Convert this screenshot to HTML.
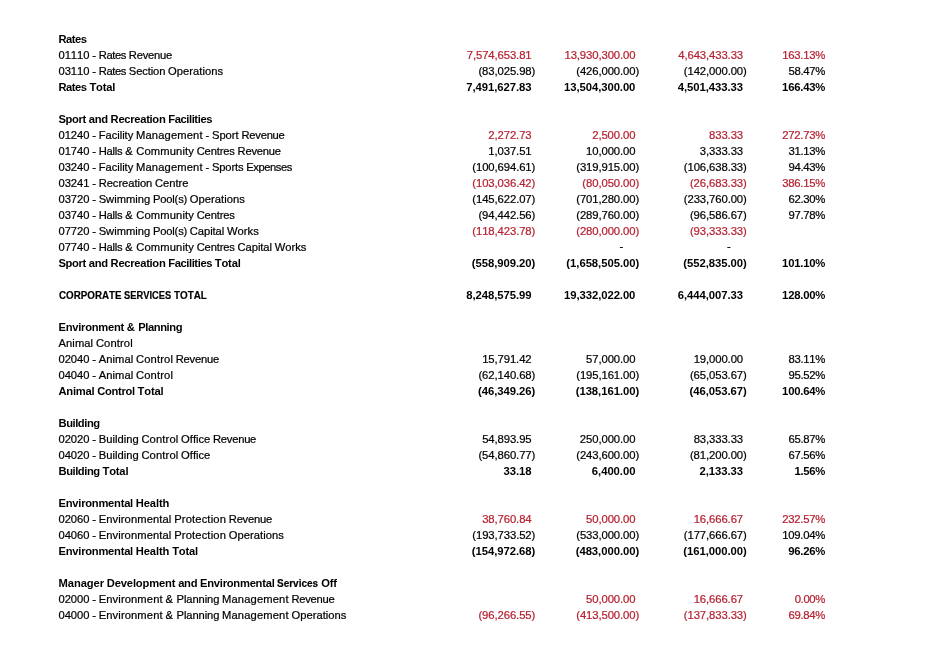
<!DOCTYPE html>
<html lang="en">
<head>
<meta charset="utf-8">
<title>Budget report</title>
<style>
html,body{margin:0;padding:0;background:#fff}
body{width:929px;height:656px;overflow:hidden;position:relative;font-family:"Liberation Sans",sans-serif;color:#000;font-kerning:none;line-height:16px}
.r{position:absolute;left:0;width:929px;height:16px;white-space:nowrap}
.l{position:absolute;top:0;left:58.5px;font-size:11.2px;word-spacing:-0.34px}
.n{position:absolute;top:0;font-size:11.3px;text-align:right}
.b{font-weight:bold;-webkit-text-stroke:0}
.red .n{color:#b52232}
.c1{right:393.7px}
.c1.p{right:397.4px}
.c2{right:289.8px}
.c2.p{right:293.5px}
.c3{right:182.2px}
.c3.p{right:185.9px}
.c4{right:103.7px}
.b .p.c1{right:397.5px}.b .p.c2{right:293.6px}.b .p.c3{right:186px}
i{font-style:normal}
.sx{display:inline-block;transform-origin:0 0;white-space:nowrap;-webkit-text-stroke:0.2px}
#page{-webkit-text-stroke:0.22px;position:absolute;left:0;top:0;width:929px;height:656px;will-change:transform}
</style>
</head>
<body>
<div id="page">
<div class="r b" style="top:30.85px"><span class="l"><i style="letter-spacing:-0.47px">Rates</i></span></div>
<div class="r red" style="top:46.85px"><span class="l"><i style="letter-spacing:-0.05px">01110</i> <i style="letter-spacing:0px">-</i> <i style="letter-spacing:-0.37px">Rates</i> <i style="letter-spacing:-0.24px">Revenue</i></span><span class="n c1 p" style="letter-spacing:-0.1px;margin-right:0.1px">7,574,653.81</span><span class="n c2 p" style="letter-spacing:-0.1px;margin-right:0.1px">13,930,300.00</span><span class="n c3 p" style="letter-spacing:-0.1px;margin-right:0.1px">4,643,433.33</span><span class="n c4" style="letter-spacing:-0.27px;margin-right:0.27px">163.13%</span></div>
<div class="r" style="top:62.85px"><span class="l"><i style="letter-spacing:-0.05px">03110</i> <i style="letter-spacing:0px">-</i> <i style="letter-spacing:-0.37px">Rates</i> <i style="letter-spacing:-0.12px">Section</i> <i style="letter-spacing:0.03px">Operations</i></span><span class="n c1" style="letter-spacing:-0.09px;margin-right:0.09px">(83,025.98)</span><span class="n c2" style="letter-spacing:-0.1px;margin-right:0.1px">(426,000.00)</span><span class="n c3" style="letter-spacing:-0.1px;margin-right:0.1px">(142,000.00)</span><span class="n c4" style="letter-spacing:-0.3px;margin-right:0.3px">58.47%</span></div>
<div class="r b" style="top:78.85px"><span class="l"><i style="letter-spacing:-0.47px">Rates</i> <i style="letter-spacing:-0.18px">Total</i></span><span class="n c1 p" style="letter-spacing:-0.07px;margin-right:0.07px">7,491,627.83</span><span class="n c2 p" style="letter-spacing:-0.07px;margin-right:0.07px">13,504,300.00</span><span class="n c3 p" style="letter-spacing:-0.07px;margin-right:0.07px">4,501,433.33</span><span class="n c4" style="letter-spacing:-0.23px;margin-right:0.23px">166.43%</span></div>
<div class="r b" style="top:110.85px"><span class="l"><i style="letter-spacing:-0.36px">Sport</i> <i style="letter-spacing:-0.26px">and</i> <i style="letter-spacing:-0.3px">Recreation</i> <i style="letter-spacing:-0.41px">Facilities</i></span></div>
<div class="r red" style="top:126.85px"><span class="l"><i style="letter-spacing:-0.05px">01240</i> <i style="letter-spacing:0px">-</i> <i style="letter-spacing:-0.03px">Facility</i> <i style="letter-spacing:0.13px">Management</i> <i style="letter-spacing:0px">-</i> <i style="letter-spacing:0px">Sport</i> <i style="letter-spacing:-0.24px">Revenue</i></span><span class="n c1 p" style="letter-spacing:-0.1px;margin-right:0.1px">2,272.73</span><span class="n c2 p" style="letter-spacing:-0.1px;margin-right:0.1px">2,500.00</span><span class="n c3 p" style="letter-spacing:-0.1px;margin-right:0.1px">833.33</span><span class="n c4" style="letter-spacing:-0.27px;margin-right:0.27px">272.73%</span></div>
<div class="r" style="top:142.85px"><span class="l"><i style="letter-spacing:-0.05px">01740</i> <i style="letter-spacing:0px">-</i> <i style="letter-spacing:-0.22px">Halls</i> <i style="letter-spacing:0.86px">&amp;</i> <i style="letter-spacing:0.11px">Community</i> <i style="letter-spacing:-0.15px">Centres</i> <i style="letter-spacing:-0.24px">Revenue</i></span><span class="n c1 p" style="letter-spacing:-0.1px;margin-right:0.1px">1,037.51</span><span class="n c2 p" style="letter-spacing:-0.1px;margin-right:0.1px">10,000.00</span><span class="n c3 p" style="letter-spacing:-0.1px;margin-right:0.1px">3,333.33</span><span class="n c4" style="letter-spacing:-0.3px;margin-right:0.3px">31.13%</span></div>
<div class="r" style="top:158.85px"><span class="l"><i style="letter-spacing:-0.05px">03240</i> <i style="letter-spacing:0px">-</i> <i style="letter-spacing:-0.03px">Facility</i> <i style="letter-spacing:0.13px">Management</i> <i style="letter-spacing:0px">-</i> <i style="letter-spacing:-0.14px">Sports</i> <i style="letter-spacing:-0.43px">Expenses</i></span><span class="n c1" style="letter-spacing:-0.1px;margin-right:0.1px">(100,694.61)</span><span class="n c2" style="letter-spacing:-0.1px;margin-right:0.1px">(319,915.00)</span><span class="n c3" style="letter-spacing:-0.1px;margin-right:0.1px">(106,638.33)</span><span class="n c4" style="letter-spacing:-0.3px;margin-right:0.3px">94.43%</span></div>
<div class="r red" style="top:174.85px"><span class="l"><i style="letter-spacing:-0.05px">03241</i> <i style="letter-spacing:0px">-</i> <i style="letter-spacing:-0.05px">Recreation</i> <i style="letter-spacing:-0.04px">Centre</i></span><span class="n c1" style="letter-spacing:-0.1px;margin-right:0.1px">(103,036.42)</span><span class="n c2" style="letter-spacing:-0.09px;margin-right:0.09px">(80,050.00)</span><span class="n c3" style="letter-spacing:-0.09px;margin-right:0.09px">(26,683.33)</span><span class="n c4" style="letter-spacing:-0.27px;margin-right:0.27px">386.15%</span></div>
<div class="r" style="top:190.85px"><span class="l"><i style="letter-spacing:-0.05px">03720</i> <i style="letter-spacing:0px">-</i> <i style="letter-spacing:-0.01px">Swimming</i> <i style="letter-spacing:-0.19px">Pool(s)</i> <i style="letter-spacing:0.03px">Operations</i></span><span class="n c1" style="letter-spacing:-0.1px;margin-right:0.1px">(145,622.07)</span><span class="n c2" style="letter-spacing:-0.1px;margin-right:0.1px">(701,280.00)</span><span class="n c3" style="letter-spacing:-0.1px;margin-right:0.1px">(233,760.00)</span><span class="n c4" style="letter-spacing:-0.3px;margin-right:0.3px">62.30%</span></div>
<div class="r" style="top:206.85px"><span class="l"><i style="letter-spacing:-0.05px">03740</i> <i style="letter-spacing:0px">-</i> <i style="letter-spacing:-0.22px">Halls</i> <i style="letter-spacing:0.86px">&amp;</i> <i style="letter-spacing:0.11px">Community</i> <i style="letter-spacing:-0.15px">Centres</i></span><span class="n c1" style="letter-spacing:-0.09px;margin-right:0.09px">(94,442.56)</span><span class="n c2" style="letter-spacing:-0.1px;margin-right:0.1px">(289,760.00)</span><span class="n c3" style="letter-spacing:-0.09px;margin-right:0.09px">(96,586.67)</span><span class="n c4" style="letter-spacing:-0.3px;margin-right:0.3px">97.78%</span></div>
<div class="r red" style="top:222.85px"><span class="l"><i style="letter-spacing:-0.05px">07720</i> <i style="letter-spacing:0px">-</i> <i style="letter-spacing:-0.01px">Swimming</i> <i style="letter-spacing:-0.19px">Pool(s)</i> <i style="letter-spacing:-0.08px">Capital</i> <i style="letter-spacing:0.03px">Works</i></span><span class="n c1" style="letter-spacing:-0.1px;margin-right:0.1px">(118,423.78)</span><span class="n c2" style="letter-spacing:-0.1px;margin-right:0.1px">(280,000.00)</span><span class="n c3" style="letter-spacing:-0.09px;margin-right:0.09px">(93,333.33)</span></div>
<div class="r" style="top:238.85px"><span class="l"><i style="letter-spacing:-0.05px">07740</i> <i style="letter-spacing:0px">-</i> <i style="letter-spacing:-0.22px">Halls</i> <i style="letter-spacing:0.86px">&amp;</i> <i style="letter-spacing:0.11px">Community</i> <i style="letter-spacing:-0.15px">Centres</i> <i style="letter-spacing:-0.08px">Capital</i> <i style="letter-spacing:0.03px">Works</i></span><span class="n" style="right:305.87px;top:-1px">-</span><span class="n" style="right:198.27px;top:-1px">-</span></div>
<div class="r b" style="top:254.85px"><span class="l"><i style="letter-spacing:-0.36px">Sport</i> <i style="letter-spacing:-0.26px">and</i> <i style="letter-spacing:-0.3px">Recreation</i> <i style="letter-spacing:-0.41px">Facilities</i> <i style="letter-spacing:-0.18px">Total</i></span><span class="n c1" style="letter-spacing:-0.05px;margin-right:0.05px">(558,909.20)</span><span class="n c2" style="letter-spacing:-0.05px;margin-right:0.05px">(1,658,505.00)</span><span class="n c3" style="letter-spacing:-0.05px;margin-right:0.05px">(552,835.00)</span><span class="n c4" style="letter-spacing:-0.23px;margin-right:0.23px">101.10%</span></div>
<div class="r b" style="top:286.85px"><span class="l"><i class="sx" style="width:62.52px;transform:scaleX(0.8745)">CORPORATE</i> <i class="sx" style="width:47.19px;transform:scaleX(0.8340)">SERVICES</i> <i class="sx" style="width:32.86px;transform:scaleX(0.8810)">TOTAL</i></span><span class="n c1 p" style="letter-spacing:-0.07px;margin-right:0.07px">8,248,575.99</span><span class="n c2 p" style="letter-spacing:-0.07px;margin-right:0.07px">19,332,022.00</span><span class="n c3 p" style="letter-spacing:-0.07px;margin-right:0.07px">6,444,007.33</span><span class="n c4" style="letter-spacing:-0.23px;margin-right:0.23px">128.00%</span></div>
<div class="r b" style="top:318.85px"><span class="l"><i style="letter-spacing:-0.26px">Environment</i> <i style="letter-spacing:0.5px">&amp;</i> <i style="letter-spacing:-0.42px">Planning</i></span></div>
<div class="r" style="top:334.85px"><span class="l"><i style="letter-spacing:0.07px">Animal</i> <i style="letter-spacing:0.12px">Control</i></span></div>
<div class="r" style="top:350.85px"><span class="l"><i style="letter-spacing:-0.05px">02040</i> <i style="letter-spacing:0px">-</i> <i style="letter-spacing:0.07px">Animal</i> <i style="letter-spacing:0.12px">Control</i> <i style="letter-spacing:-0.24px">Revenue</i></span><span class="n c1 p" style="letter-spacing:-0.1px;margin-right:0.1px">15,791.42</span><span class="n c2 p" style="letter-spacing:-0.1px;margin-right:0.1px">57,000.00</span><span class="n c3 p" style="letter-spacing:-0.1px;margin-right:0.1px">19,000.00</span><span class="n c4" style="letter-spacing:-0.3px;margin-right:0.3px">83.11%</span></div>
<div class="r" style="top:366.85px"><span class="l"><i style="letter-spacing:-0.05px">04040</i> <i style="letter-spacing:0px">-</i> <i style="letter-spacing:0.07px">Animal</i> <i style="letter-spacing:0.12px">Control</i></span><span class="n c1" style="letter-spacing:-0.09px;margin-right:0.09px">(62,140.68)</span><span class="n c2" style="letter-spacing:-0.1px;margin-right:0.1px">(195,161.00)</span><span class="n c3" style="letter-spacing:-0.09px;margin-right:0.09px">(65,053.67)</span><span class="n c4" style="letter-spacing:-0.3px;margin-right:0.3px">95.52%</span></div>
<div class="r b" style="top:382.85px"><span class="l"><i style="letter-spacing:-0.24px">Animal</i> <i style="letter-spacing:-0.3px">Control</i> <i style="letter-spacing:-0.18px">Total</i></span><span class="n c1" style="letter-spacing:-0.05px;margin-right:0.05px">(46,349.26)</span><span class="n c2" style="letter-spacing:-0.05px;margin-right:0.05px">(138,161.00)</span><span class="n c3" style="letter-spacing:-0.05px;margin-right:0.05px">(46,053.67)</span><span class="n c4" style="letter-spacing:-0.23px;margin-right:0.23px">100.64%</span></div>
<div class="r b" style="top:414.85px"><span class="l"><i style="letter-spacing:-0.44px">Building</i></span></div>
<div class="r" style="top:430.85px"><span class="l"><i style="letter-spacing:-0.05px">02020</i> <i style="letter-spacing:0px">-</i> <i style="letter-spacing:0.02px">Building</i> <i style="letter-spacing:0.12px">Control</i> <i style="letter-spacing:-0.02px">Office</i> <i style="letter-spacing:-0.24px">Revenue</i></span><span class="n c1 p" style="letter-spacing:-0.1px;margin-right:0.1px">54,893.95</span><span class="n c2 p" style="letter-spacing:-0.1px;margin-right:0.1px">250,000.00</span><span class="n c3 p" style="letter-spacing:-0.1px;margin-right:0.1px">83,333.33</span><span class="n c4" style="letter-spacing:-0.3px;margin-right:0.3px">65.87%</span></div>
<div class="r" style="top:446.85px"><span class="l"><i style="letter-spacing:-0.05px">04020</i> <i style="letter-spacing:0px">-</i> <i style="letter-spacing:0.02px">Building</i> <i style="letter-spacing:0.12px">Control</i> <i style="letter-spacing:-0.02px">Office</i></span><span class="n c1" style="letter-spacing:-0.09px;margin-right:0.09px">(54,860.77)</span><span class="n c2" style="letter-spacing:-0.1px;margin-right:0.1px">(243,600.00)</span><span class="n c3" style="letter-spacing:-0.09px;margin-right:0.09px">(81,200.00)</span><span class="n c4" style="letter-spacing:-0.3px;margin-right:0.3px">67.56%</span></div>
<div class="r b" style="top:462.85px"><span class="l"><i style="letter-spacing:-0.44px">Building</i> <i style="letter-spacing:-0.18px">Total</i></span><span class="n c1 p" style="letter-spacing:-0.06px;margin-right:0.06px">33.18</span><span class="n c2 p" style="letter-spacing:-0.06px;margin-right:0.06px">6,400.00</span><span class="n c3 p" style="letter-spacing:-0.06px;margin-right:0.06px">2,133.33</span><span class="n c4" style="letter-spacing:-0.28px;margin-right:0.28px">1.56%</span></div>
<div class="r b" style="top:494.85px"><span class="l"><i style="letter-spacing:-0.25px">Environmental</i> <i style="letter-spacing:-0.1px">Health</i></span></div>
<div class="r red" style="top:510.85px"><span class="l"><i style="letter-spacing:-0.05px">02060</i> <i style="letter-spacing:0px">-</i> <i style="letter-spacing:0.09px">Environmental</i> <i style="letter-spacing:0.15px">Protection</i> <i style="letter-spacing:-0.24px">Revenue</i></span><span class="n c1 p" style="letter-spacing:-0.1px;margin-right:0.1px">38,760.84</span><span class="n c2 p" style="letter-spacing:-0.1px;margin-right:0.1px">50,000.00</span><span class="n c3 p" style="letter-spacing:-0.1px;margin-right:0.1px">16,666.67</span><span class="n c4" style="letter-spacing:-0.27px;margin-right:0.27px">232.57%</span></div>
<div class="r" style="top:526.85px"><span class="l"><i style="letter-spacing:-0.05px">04060</i> <i style="letter-spacing:0px">-</i> <i style="letter-spacing:0.09px">Environmental</i> <i style="letter-spacing:0.15px">Protection</i> <i style="letter-spacing:0.03px">Operations</i></span><span class="n c1" style="letter-spacing:-0.1px;margin-right:0.1px">(193,733.52)</span><span class="n c2" style="letter-spacing:-0.1px;margin-right:0.1px">(533,000.00)</span><span class="n c3" style="letter-spacing:-0.1px;margin-right:0.1px">(177,666.67)</span><span class="n c4" style="letter-spacing:-0.27px;margin-right:0.27px">109.04%</span></div>
<div class="r b" style="top:542.85px"><span class="l"><i style="letter-spacing:-0.25px">Environmental</i> <i style="letter-spacing:-0.1px">Health</i> <i style="letter-spacing:-0.18px">Total</i></span><span class="n c1" style="letter-spacing:-0.05px;margin-right:0.05px">(154,972.68)</span><span class="n c2" style="letter-spacing:-0.05px;margin-right:0.05px">(483,000.00)</span><span class="n c3" style="letter-spacing:-0.05px;margin-right:0.05px">(161,000.00)</span><span class="n c4" style="letter-spacing:-0.24px;margin-right:0.24px">96.26%</span></div>
<div class="r b" style="top:574.85px"><span class="l"><i style="letter-spacing:-0.08px">Manager</i> <i style="letter-spacing:-0.15px">Development</i> <i style="letter-spacing:-0.26px">and</i> <i style="letter-spacing:-0.25px">Environmental</i> <i class="sx" style="width:41.09px;transform:scaleX(0.8924)">Services</i> <i style="letter-spacing:-0.2px">Off</i></span></div>
<div class="r red" style="top:590.85px"><span class="l"><i style="letter-spacing:-0.05px">02000</i> <i style="letter-spacing:0px">-</i> <i style="letter-spacing:0.11px">Environment</i> <i style="letter-spacing:0.86px">&amp;</i> <i style="letter-spacing:-0.11px">Planning</i> <i style="letter-spacing:0.13px">Management</i> <i style="letter-spacing:-0.24px">Revenue</i></span><span class="n c2 p" style="letter-spacing:-0.1px;margin-right:0.1px">50,000.00</span><span class="n c3 p" style="letter-spacing:-0.1px;margin-right:0.1px">16,666.67</span><span class="n c4" style="letter-spacing:-0.34px;margin-right:0.34px">0.00%</span></div>
<div class="r red" style="top:606.85px"><span class="l"><i style="letter-spacing:-0.05px">04000</i> <i style="letter-spacing:0px">-</i> <i style="letter-spacing:0.11px">Environment</i> <i style="letter-spacing:0.86px">&amp;</i> <i style="letter-spacing:-0.11px">Planning</i> <i style="letter-spacing:0.13px">Management</i> <i style="letter-spacing:0.03px">Operations</i></span><span class="n c1" style="letter-spacing:-0.09px;margin-right:0.09px">(96,266.55)</span><span class="n c2" style="letter-spacing:-0.1px;margin-right:0.1px">(413,500.00)</span><span class="n c3" style="letter-spacing:-0.1px;margin-right:0.1px">(137,833.33)</span><span class="n c4" style="letter-spacing:-0.3px;margin-right:0.3px">69.84%</span></div>
</div>
</body>
</html>
